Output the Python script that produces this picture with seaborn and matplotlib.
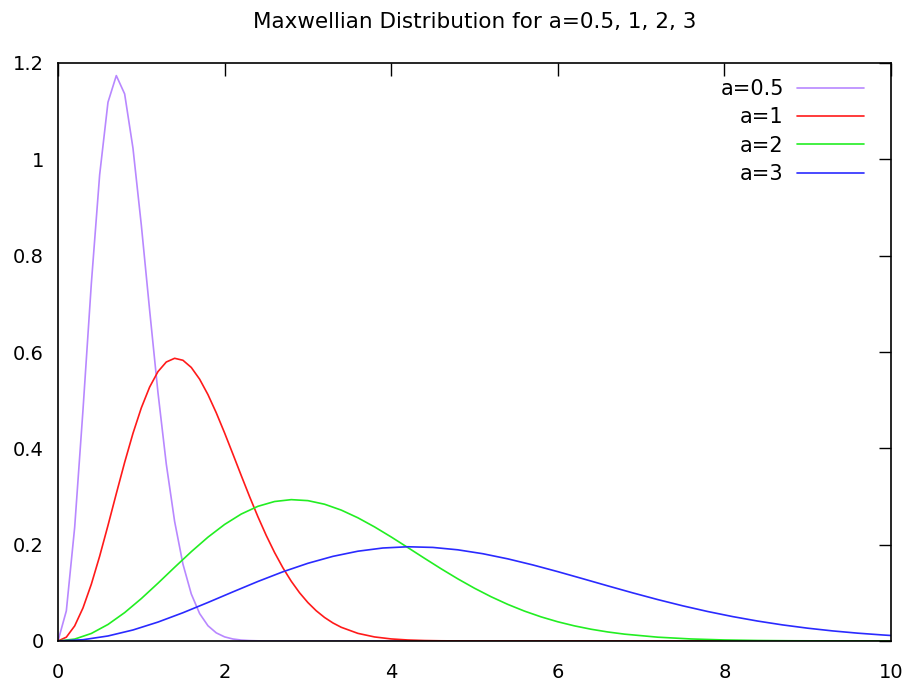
import matplotlib.pyplot as plt
import seaborn as sns
import pandas as pd

# values
x_05 = [0.0, 0.1, 0.2, 0.3, 0.4, 0.5, 0.6, 0.7, 0.8, 0.9, 1.0, 1.1, 1.2, 1.3, 1.4,
        1.5, 1.6, 1.7, 1.8, 1.9, 2.0, 2.1, 2.2, 2.3, 2.4, 2.5, 10.0]
y_05 = [0.0, 0.06257, 0.23569, 0.47984, 0.74161, 0.96789, 1.11851, 1.17386, 1.13583,
        1.02320, 0.86385, 0.68679, 0.51597, 0.36728, 0.24823, 0.15955, 0.09765,
        0.05698, 0.03172, 0.01687, 0.00856, 0.00416, 0.00193, 0.00086, 0.00037,
        0.00015, 0.0]

x_1 = [0.0, 0.1, 0.2, 0.3, 0.4, 0.5, 0.6, 0.7, 0.8, 0.9, 1.0, 1.1, 1.2, 1.3, 1.4,
       1.5, 1.6, 1.7, 1.8, 1.9, 2.0, 2.1, 2.2, 2.3, 2.4, 2.5, 2.6, 2.7, 2.8, 2.9,
       3.0, 3.1, 3.2, 3.3, 3.4, 3.6, 3.8, 4.0, 4.2, 4.4, 4.6, 4.8, 5.0, 10.0]
y_1 = [0.0, 0.00794, 0.03128, 0.06865, 0.11785, 0.17604, 0.23992, 0.30601, 0.37080,
       0.43106, 0.48394, 0.52720, 0.55926, 0.57923, 0.58693, 0.58283, 0.56792,
       0.54361, 0.51160, 0.47375, 0.43193, 0.38794, 0.34340, 0.29970, 0.25799,
       0.21910, 0.18364, 0.15194, 0.12411, 0.10012, 0.07977, 0.06279, 0.04883,
       0.03752, 0.02849, 0.01586, 0.00843, 0.00428, 0.00208, 0.00097, 0.00043,
       0.00018, 0.00007, 0.0]

x_2 = [0.0, 0.2, 0.4, 0.6, 0.8, 1.0, 1.2, 1.4, 1.6, 1.8, 2.0, 2.2, 2.4, 2.6, 2.8,
       3.0, 3.2, 3.4, 3.6, 3.8, 4.0, 4.2, 4.4, 4.6, 4.8, 5.0, 5.2, 5.4, 5.6, 5.8,
       6.0, 6.2, 6.4, 6.6, 6.8, 7.2, 7.6, 8.0, 8.4, 8.8, 9.2, 9.6, 10.0]
y_2 = [0.0, 0.00397, 0.01564, 0.03433, 0.05893, 0.08802, 0.11996, 0.15300, 0.18540,
       0.21553, 0.24197, 0.26360, 0.27963, 0.28961, 0.29347, 0.29142, 0.28396,
       0.27180, 0.25580, 0.23687, 0.21597, 0.19397, 0.17170, 0.14985, 0.12900,
       0.10955, 0.09182, 0.07597, 0.06206, 0.05006, 0.03989, 0.03140, 0.02442,
       0.01876, 0.01425, 0.00793, 0.00422, 0.00214, 0.00104, 0.00049, 0.00022,
       0.00009, 0.00004]

x_3 = [0.0, 0.3, 0.6, 0.9, 1.2, 1.5, 1.8, 2.1, 2.4, 2.7, 3.0, 3.3, 3.6, 3.9, 4.2,
       4.5, 4.8, 5.1, 5.4, 5.7, 6.0, 6.3, 6.6, 6.9, 7.2, 7.5, 7.8, 8.1, 8.4, 8.7,
       9.0, 9.3, 9.6, 9.9, 10.0]
y_3 = [0.0, 0.00265, 0.01043, 0.02288, 0.03928, 0.05868, 0.07997, 0.10200, 0.12360,
       0.14369, 0.16131, 0.17573, 0.18642, 0.19308, 0.19564, 0.19428, 0.18931,
       0.18120, 0.17053, 0.15792, 0.14398, 0.12931, 0.11447, 0.09990, 0.08600,
       0.07303, 0.06121, 0.05065, 0.04137, 0.03337, 0.02659, 0.02093, 0.01628,
       0.01251, 0.01142]

labels = ['a=0.5', 'a=1', 'a=2', 'a=3']

df = pd.DataFrame({
    'x': x_05 + x_1 + x_2 + x_3,
    'y': y_05 + y_1 + y_2 + y_3,
    'curve': [labels[0]] * len(x_05) + [labels[1]] * len(x_1)
    + [labels[2]] * len(x_2) + [labels[3]] * len(x_3),
})

my_colors = {'a=0.5': '#b888ff', 'a=1': '#ff1a1a', 'a=2': '#22ee22', 'a=3': '#2a2aff'}

sns.set_style('white')
plt.rcParams['font.family'] = ['DejaVu Sans']
plt.rcParams['text.color'] = 'black'

fig = plt.figure(figsize=(9.1, 6.81), dpi=100)
ax = fig.add_axes([58 / 910, 1 - 641 / 681, (891 - 58) / 910, (641 - 63) / 681])

sns.lineplot(data=df, x='x', y='y', hue='curve', palette=my_colors,
             sort=False, estimator=None, linewidth=1.2, ax=ax)

ax.set_xlim(0, 10)
ax.set_ylim(0, 1.2)
ax.set_xticks([0, 2, 4, 6, 8, 10])
ax.set_xticklabels(['0', '2', '4', '6', '8', '10'])
ax.set_yticks([0, 0.2, 0.4, 0.6, 0.8, 1.0, 1.2])
ax.set_yticklabels(['0', '0.2', '0.4', '0.6', '0.8', '1', '1.2'])
ax.set_xlabel('')
ax.set_ylabel('')
ax.tick_params(direction='in', length=9, width=1, top=True, right=True,
               labelsize=14, colors='black')
ax.tick_params(axis='x', pad=16)
ax.tick_params(axis='y', pad=10)
for s in ax.spines.values():
    s.set_color('black')
    s.set_linewidth(1.2)

ax.legend(loc='upper right', frameon=False, markerfirst=False, fontsize=15,
          handlelength=3.2, handletextpad=0.65, labelspacing=0.4,
          borderpad=0, borderaxespad=0,
          bbox_to_anchor=(1 - 27 / 833, 1 - 16 / 578))

# gnuplot centres the title over the plot area
fig.text(474.5 / 910, 1 - 22 / 681, 'Maxwellian Distribution for a=0.5, 1, 2, 3',
         fontsize=15.5, ha='center', va='center', color='black')

fig.savefig('out.png', dpi=100)
